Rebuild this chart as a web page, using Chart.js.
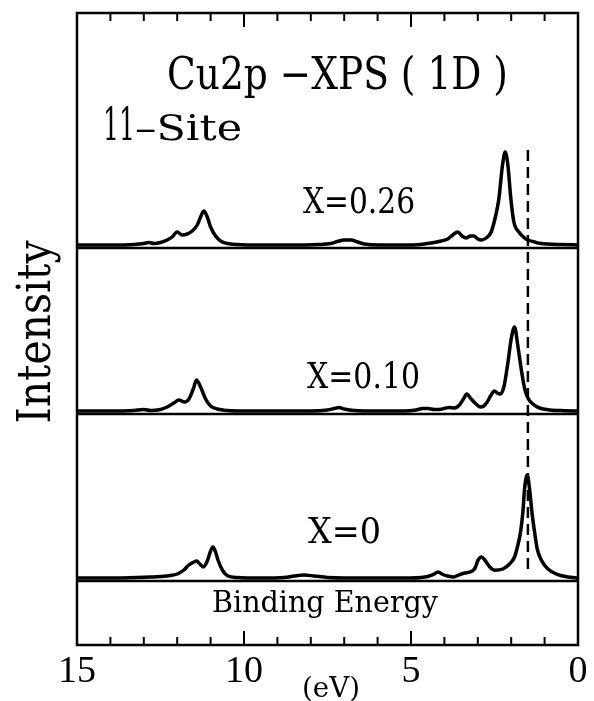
<!DOCTYPE html>
<html>
<head>
<meta charset="utf-8">
<script src="https://cdn.jsdelivr.net/npm/chart.js@4"></script>
<style>
html,body{margin:0;padding:0;background:#ffffff;}
#wrap{width:594px;height:701px;position:relative;}
</style>
</head>
<body>
<div id="wrap"><canvas id="c" width="594" height="701"></canvas></div>
<script>
// ---------- data ----------
const xTickLabels = [15, 10, 5, 0];
const minorTickEnergies = [14, 13, 12, 11, 9, 8, 7, 6, 4, 3, 2, 1];
const majorTickEnergies = [10, 5];
const seriesLabels = ['X=0.26', 'X=0.10', 'X=0'];
const fermiEnergy = 1.5;

// X = 0.26
const energies026 = [15, 14, 13.3, 13.0, 12.85, 12.7, 12.5, 12.3, 12.15, 12.0, 11.85, 11.7, 11.55, 11.4, 11.3, 11.2, 11.1, 11.0, 10.85, 10.7, 10.5, 10.2, 9.5, 8.5, 7.8, 7.4, 7.2, 7.0, 6.8, 6.6, 6.4, 6.0, 5.0, 4.6, 4.4, 4.1, 3.9, 3.75, 3.6, 3.47, 3.35, 3.22, 3.12, 3.0, 2.9, 2.75, 2.6, 2.46, 2.37, 2.26, 2.18, 2.1, 2.01, 1.92, 1.77, 1.6, 1.5, 1.3, 1.2, 0.9, 0.5, 0];
const intensity026 = [0, 0, 0.5, 1.5, 2.5, 1.5, 2.5, 5, 8, 13, 10, 11, 14, 20, 28, 34, 28, 18, 9, 4, 1.5, 0.5, 0, 0, 0.5, 1.5, 3.5, 5, 5, 3, 1, 0, 0, 1, 2, 4, 6, 10, 13, 9, 7, 9, 9, 6, 5, 7, 13, 30, 46, 80, 93, 80, 46, 23, 13, 7, 5, 3, 2, 1, 0.5, 0];

// X = 0.10
const energies010 = [15, 14, 13.3, 13.0, 12.8, 12.5, 12.3, 12.1, 11.95, 11.78, 11.65, 11.52, 11.42, 11.3, 11.15, 11.0, 10.8, 10.5, 10, 8, 7.5, 7.3, 7.15, 7.0, 6.7, 6, 5.2, 4.85, 4.65, 4.5, 4.3, 4.15, 3.95, 3.85, 3.7, 3.55, 3.43, 3.33, 3.2, 3.05, 2.92, 2.82, 2.72, 2.62, 2.5, 2.42, 2.33, 2.22, 2.1, 2.0, 1.9, 1.8, 1.7, 1.6, 1.5, 1.35, 1.15, 0.85, 0.4, 0];
const intensity010 = [0, 0, 0.5, 1.5, 0.5, 1.5, 4, 8, 11, 9, 12, 22, 31, 24, 12, 5, 2, 0.5, 0, 0, 1, 2.5, 3.5, 2, 0.5, 0, 0, 1, 2.5, 2.5, 1.5, 1.5, 3, 3.5, 3, 6, 12, 17, 12, 7, 4, 5, 9, 15, 20, 18, 17, 24, 48, 72, 84, 65, 42, 23, 13, 7, 3, 1, 0.3, 0];

// X = 0
const energies000 = [15, 14, 13.2, 12.8, 12.5, 12.2, 12.0, 11.8, 11.65, 11.5, 11.42, 11.32, 11.22, 11.1, 11.0, 10.93, 10.85, 10.78, 10.63, 10.48, 10.2, 9.5, 8.8, 8.5, 8.2, 7.9, 7.5, 7, 5, 4.7, 4.5, 4.34, 4.19, 4.05, 3.9, 3.74, 3.59, 3.39, 3.24, 3.09, 2.99, 2.89, 2.79, 2.64, 2.49, 2.25, 2.05, 1.9, 1.8, 1.72, 1.65, 1.6, 1.52, 1.45, 1.38, 1.3, 1.22, 1.1, 0.9, 0.6, 0.3, 0];
const intensity000 = [0, 0, 0.5, 1, 1.5, 2.5, 4, 8, 13, 16, 17, 14, 11, 17, 27, 31, 26, 18, 7, 2, 0.5, 0, 0.5, 2, 3, 2, 0.5, 0, 0, 0.5, 1.5, 3.3, 6, 3.5, 2, 1, 2.7, 5, 6, 9.5, 18, 21, 18, 11, 7.7, 9, 14, 21, 33, 46, 66, 89, 103, 89, 66, 46, 29, 18, 9, 3.3, 1, 0];

// ---------- layout (value space of the vertical axis) ----------
const yRange = [0, 632];
const panelBaselines = [400, 234, 67];
const panelDividers = [397, 231, 64];
const fermiLineSpan = [495, 73];

function toPoints(energies, intensity, base) {
  return energies.map((e, i) => ({ x: e, y: base + intensity[i] }));
}

const spectra = [
  [energies026, intensity026],
  [energies010, intensity010],
  [energies000, intensity000]
];

const datasets = spectra.map((s, k) => ({
  label: seriesLabels[k],
  data: toPoints(s[0], s[1], panelBaselines[k]),
  borderColor: '#000',
  borderWidth: 3.5,
  pointRadius: 0,
  fill: false,
  cubicInterpolationMode: 'monotone'
}));
datasets.push({
  label: 'Fermi',
  data: [{ x: fermiEnergy, y: fermiLineSpan[0] }, { x: fermiEnergy, y: fermiLineSpan[1] }],
  borderColor: '#000',
  borderWidth: 2.5,
  borderDash: [11, 6],
  pointRadius: 0,
  fill: false
});

function fitText(ctx, text, left, right, baseline, font) {
  ctx.save();
  ctx.font = font;
  const w = ctx.measureText(text).width;
  const sx = (right - left) / w;
  ctx.translate(left, baseline);
  ctx.scale(sx, 1);
  ctx.textAlign = 'left';
  ctx.textBaseline = 'alphabetic';
  ctx.fillStyle = '#000';
  ctx.fillText(text, 0, 0);
  ctx.restore();
}

const framePlugin = {
  id: 'framePlugin',
  afterDraw(chart) {
    const { ctx, chartArea: a } = chart;
    const x = chart.scales.x, y = chart.scales.y;
    ctx.save();
    ctx.strokeStyle = '#000';
    ctx.lineCap = 'butt';
    ctx.lineWidth = 2.5;
    ctx.strokeRect(a.left, a.top, a.right - a.left, a.bottom - a.top);
    panelDividers.forEach(v => {
      const py = y.getPixelForValue(v);
      ctx.beginPath(); ctx.moveTo(a.left, py); ctx.lineTo(a.right, py); ctx.stroke();
    });
    ctx.lineWidth = 2;
    const drawTick = (e, len) => {
      const px = x.getPixelForValue(e);
      ctx.beginPath(); ctx.moveTo(px, a.top); ctx.lineTo(px, a.top + len); ctx.stroke();
      ctx.beginPath(); ctx.moveTo(px, a.bottom); ctx.lineTo(px, a.bottom - len); ctx.stroke();
    };
    minorTickEnergies.forEach(e => drawTick(e, 8));
    majorTickEnergies.forEach(e => drawTick(e, 14));
    ctx.restore();

    // texts
    fitText(ctx, 'Cu2p \u2212XPS ( 1D )', 167, 508, 89, '44px "DejaVu Serif"');
    fitText(ctx, '11', 103, 135, 140, '45px "DejaVu Serif"');
    fitText(ctx, '\u2013Site', 135, 242, 140, '35px "DejaVu Serif"');
    fitText(ctx, seriesLabels[0], 303, 415, 213, '35px "DejaVu Serif"');
    fitText(ctx, seriesLabels[1], 307, 420, 388, '35px "DejaVu Serif"');
    fitText(ctx, seriesLabels[2], 308, 381, 543, '35px "DejaVu Serif"');
    fitText(ctx, 'Binding Energy', 212, 438, 612, '29px "DejaVu Serif"');
    fitText(ctx, '(eV)', 302, 360, 697, '28px "DejaVu Serif"');

    ctx.save();
    ctx.translate(50, 332);
    ctx.rotate(-Math.PI / 2);
    ctx.font = '46px "DejaVu Serif"';
    const w = ctx.measureText('Intensity').width;
    ctx.scale(183 / w, 1);
    ctx.textAlign = 'center';
    ctx.textBaseline = 'alphabetic';
    ctx.fillStyle = '#000';
    ctx.fillText('Intensity', 0, 0);
    ctx.restore();
  }
};

new Chart(document.getElementById('c'), {
  type: 'line',
  data: { datasets },
  options: {
    responsive: false,
    animation: false,
    devicePixelRatio: 1,
    layout: { padding: { left: 77, right: 16, top: 13, bottom: 0 } },
    plugins: { legend: { display: false }, tooltip: { enabled: false }, title: { display: false } },
    scales: {
      x: {
        type: 'linear',
        min: 0, max: 15,
        reverse: true,
        afterFit: s => { s.height = 56; },
        afterBuildTicks: s => { s.ticks = xTickLabels.map(v => ({ value: v })); },
        grid: { display: false, drawTicks: false },
        border: { display: false },
        ticks: {
          autoSkip: false,
          maxRotation: 0,
          padding: 4,
          color: '#000',
          font: { family: '"Liberation Serif"', size: 38 },
          callback: v => String(v)
        }
      },
      y: {
        type: 'linear',
        display: false,
        min: yRange[0], max: yRange[1]
      }
    }
  },
  plugins: [framePlugin]
});
</script>
</body>
</html>
